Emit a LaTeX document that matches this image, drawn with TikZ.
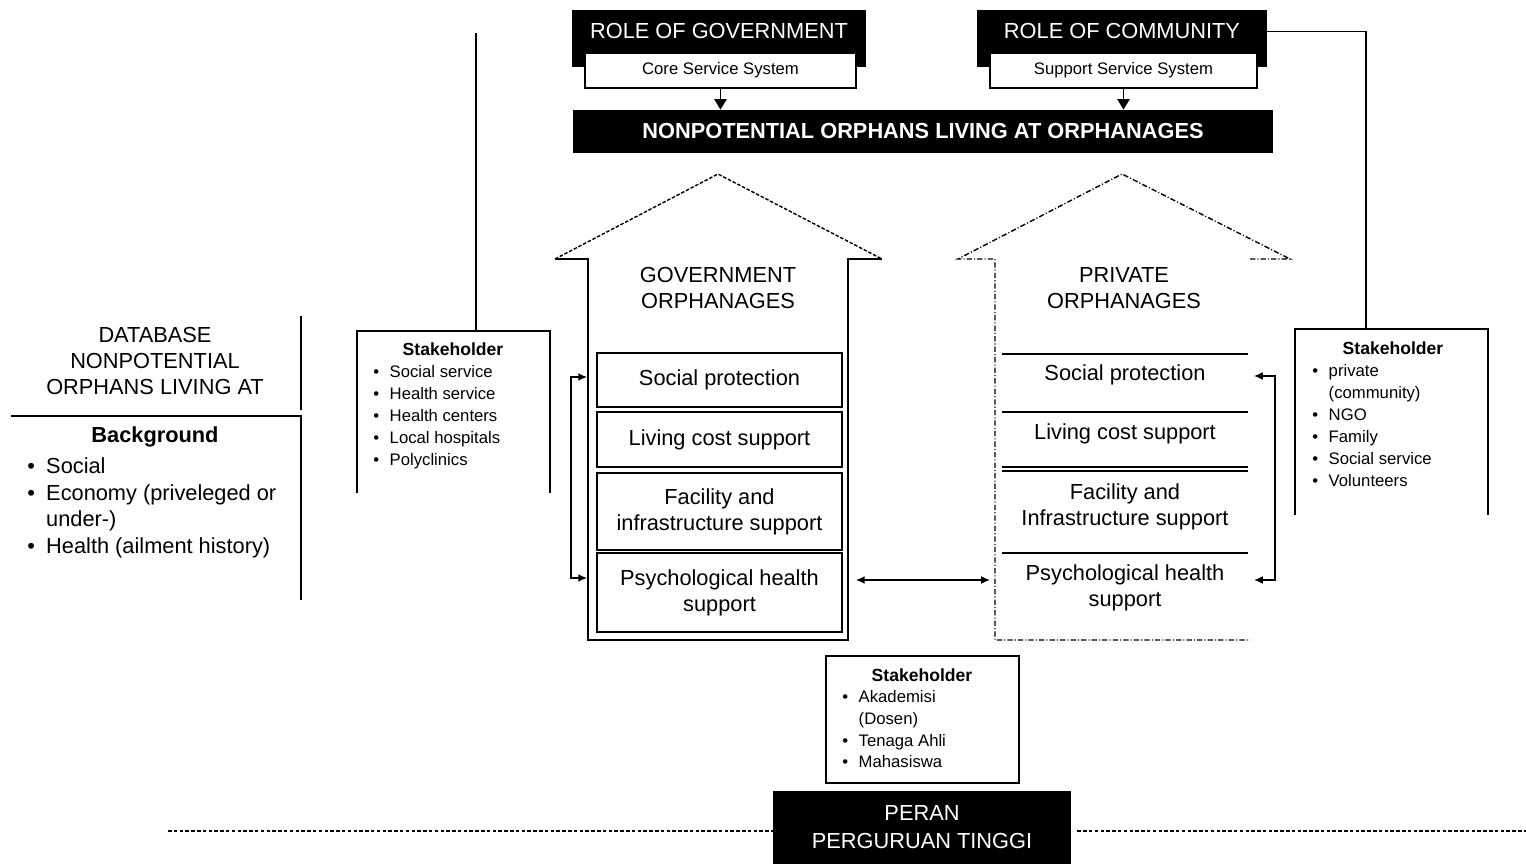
\documentclass[tikz,border=0pt]{standalone}
\usepackage{fontspec}
\setmainfont{Liberation Sans}
\usepackage{tikz}
\usetikzlibrary{arrows.meta}
\usetikzlibrary{positioning,calc}

\def\px{0.02cm}
\newcommand{\mainsize}{\fontsize{12.4}{14.8}\selectfont}
\newcommand{\smallsize}{\fontsize{9.5}{12.5}\selectfont}

\tikzset{
  darkbox/.style 2 args={fill=black, text=white, inner sep=0pt, align=center,
    minimum width={#1*\px}, minimum height={#2*\px}},
  subbox/.style 2 args={draw, fill=white, line width=1pt, inner sep=0pt,
    minimum width={#1*\px}, minimum height={#2*\px}, font=\smallsize},
  servicebox/.style={draw, line width=1pt, inner sep=0pt, align=center,
    minimum width={245*\px}, minimum height={#1*\px}, font=\mainsize},
  servicetext/.style={inner sep=0pt, align=center, font=\mainsize},
  wall/.style={line width=1.1pt},
  govroof/.style={line width=0.8pt, dash pattern=on 2pt off 1pt},
  privline/.style={line width=0.8pt, dash pattern=on 3pt off 1.2pt on 0.6pt off 1.2pt},
  frame/.style={line width=1pt},
  floorline/.style={line width=1pt, dash pattern=on 2pt off 1.3pt},
  biarrow/.style={line width=0.9pt, {Latex[length=5pt,width=4.5pt]}-{Latex[length=5pt,width=4.5pt]}},
  downarrow/.style={line width=0.9pt, -{Triangle[length=6pt,width=7pt]}},
  listnode/.style={anchor=north west, inner sep=0pt, align=left},
  stitle/.style={inner sep=0pt, font=\fontsize{10}{12}\selectfont\bfseries},
}

\begin{document}
\begin{tikzpicture}[x=\px, y=-\px]
        \useasboundingbox (0,0) rectangle (1526,864);

        % roles
        \node[darkbox={294}{43}, font=\mainsize] (govrole) at (719,31.5) {ROLE OF GOVERNMENT};
        \fill (govrole.south west) rectangle ($(govrole.south east)+(0,14)$);
        \node[subbox={271}{35}] (govsub) at (720.5,70.5) {Core Service System};
        \node[darkbox={290}{43}, font=\mainsize] (commrole) at (1122,31.5) {ROLE OF COMMUNITY};
        \fill (commrole.south west) rectangle ($(commrole.south east)+(0,14)$);
        \node[subbox={267}{35}] (commsub) at (1123.5,70.5) {Support Service System};
        \node[darkbox={700}{43}, font=\mainsize\bfseries] (nonpot) at (923,131.5)
            {NONPOTENTIAL ORPHANS LIVING AT ORPHANAGES};
        \draw[downarrow] (govsub.south) -- (govsub.south |- nonpot.north);
        \draw[downarrow] (commsub.south) -- (commsub.south |- nonpot.north);

        % government orphanages
        \coordinate (gapex) at (718,174);
        \draw[govroof] (555,259) -- (gapex) -- (882,259);
        \draw[wall] (555,259) -- (588,259) -- (588,640) -- (848,640) -- (848,259) -- (882,259);
        \node[servicetext] (govname) at (718,288) {GOVERNMENT\\ORPHANAGES};
        \node[servicebox=54] (govsp) at (719.5,380) {Social protection};
        \node[servicebox=55] (govlc) at (719.5,439.5) {Living cost support};
        \node[servicebox=77] (govfi) at (719.5,511.5) {Facility and\\infrastructure support};
        \node[servicebox=79] (govph) at (719.5,592.5) {Psychological health\\support};

        % private orphanages
        \coordinate (papex) at (1122,174);
        \draw[privline] (1250,259) -- (1290,259) -- (papex) -- (958,259) -- (995,259)
            -- (995,640) -- (1250,640);
        \node[servicetext] (privname) at (1124,288) {PRIVATE\\ORPHANAGES};
        \foreach \yy in {354,412,467,471,553}
            \draw[frame] (1002,\yy) -- (1248,\yy);
        \node[servicetext] (privsp) at (1125,375) {Social protection};
        \node[servicetext] (privlc) at (1125,434) {Living cost support};
        \node[servicetext] (privfi) at (1125,507) {Facility and\\Infrastructure support};
        \node[servicetext] (privph) at (1125,588) {Psychological health\\support};

        \coordinate (gin1) at ($(govsp.west)+(-9,-3)$);
        \coordinate (gin2) at ($(govph.west)+(-9,-14.5)$);
        \draw[biarrow] (gin1) -- ++(-16,0) |- (gin2);
        \coordinate (pin1) at (1254,376);
        \coordinate (pin2) at (1254,580);
        \draw[biarrow] (pin1) -- ++(21,0) |- (pin2);
        \coordinate (gout) at ($(govph.east)+(13,-12.5)$);
        \coordinate (pout) at (990,580);
        \draw[biarrow] (gout) -- (pout);

        % stakeholders
        \draw[frame] (357,493) -- (357,331) -- (550,331) -- (550,493);
        \coordinate (govstaketop) at (476,331);
        \coordinate (govstakeend) at (476,33);
        \draw[frame] (govstaketop) -- (govstakeend);
        \node[stitle] (govstake) at (453,349) {Stakeholder};
        \node[listnode, font=\smallsize] (govlist) at (373,361.5) {%
            \begin{tabular}{@{}l@{\hspace{6pt}}l@{}}
            • & Social service\\ • & Health service\\ • & Health centers\\
            • & Local hospitals\\ • & Polyclinics
            \end{tabular}};

        \draw[frame] (1295,515) -- (1295,329) -- (1488,329) -- (1488,515);
        \coordinate (privstaketop) at (1366,329);
        \draw[frame] (commrole.east) -| (privstaketop);
        \node[stitle] (privstake) at (1393,348) {Stakeholder};
        \node[listnode, font=\smallsize] (privlist) at (1312,360.5) {%
            \begin{tabular}{@{}l@{\hspace{6pt}}l@{}}
            • & private\\ & (community)\\ • & NGO\\ • & Family\\
            • & Social service\\ • & Volunteers
            \end{tabular}};

        \node[draw, line width=1pt, minimum width={193*\px}, minimum height={127*\px}]
            (univstake) at (922.5,719.5) {};
        \node[stitle] (univtitle) at (922,675) {Stakeholder};
        \node[listnode, font=\fontsize{9.5}{12.3}\selectfont] (univlist) at (842,687.5) {%
            \begin{tabular}{@{}l@{\hspace{6pt}}l@{}}
            • & Akademisi\\ & (Dosen)\\ • & Tenaga Ahli\\ • & Mahasiswa
            \end{tabular}};

        % university
        \node[darkbox={298}{73}, font=\fontsize{12.4}{16}\selectfont] (peran) at (922,827.5)
            {PERAN\\PERGURUAN TINGGI};
        \coordinate (dashl) at (168,831);
        \coordinate (dashr) at (1526,831);
        \draw[floorline] (dashl) -- (dashl -| peran.west);
        \draw[floorline] ($(dashr -| peran.east)+(6,0)$) -- (dashr);

        % database
        \node[servicetext] (dbtitle) at (155,361) {DATABASE\\NONPOTENTIAL\\ORPHANS LIVING AT};
        \draw[frame] (301,316) -- (301,410);
        \draw[frame] (11,416) -- (301,416) -- (301,600);
        \node[inner sep=0pt, font=\mainsize\bfseries] (bgtitle) at (155,437) {Background};
        \node[listnode, font=\fontsize{12.4}{15.3}\selectfont] (bglist) at (27,454) {%
            \begin{tabular}{@{}l@{\hspace{6.4pt}}l@{}}
            • & Social\\ • & Economy (priveleged or\\ & under-)\\
            • & Health (ailment history)
            \end{tabular}};
\end{tikzpicture}
\end{document}
